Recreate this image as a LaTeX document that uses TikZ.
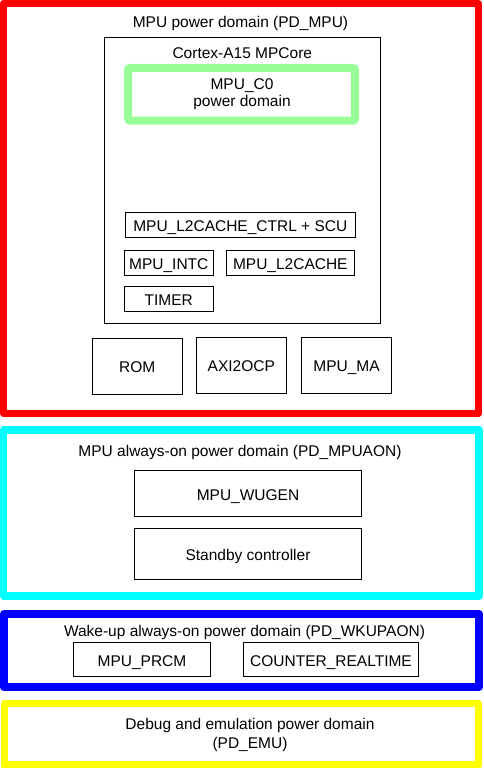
\documentclass[tikz,border=0pt]{standalone}
\usepackage{fontspec}
\setmainfont{Liberation Sans}
\definecolor{pdmpu}{RGB}{255,0,0}
\definecolor{pdcore}{RGB}{152,255,152}
\definecolor{pdaon}{RGB}{0,255,255}
\definecolor{pdwkup}{RGB}{0,0,255}
\definecolor{pdemu}{RGB}{255,255,0}
\begin{document}
\begin{tikzpicture}[x=1pt,y=-1pt,
  every node/.style={font=\fontsize{15.5}{17}\selectfont,inner sep=0pt,align=center},
  pdframe/.style={line width=7.5pt,line join=round},
  blk/.style={draw,line width=1pt,text height=13pt,text depth=0pt},
  smallblk/.style={blk,minimum height=25pt},
  bigblk/.style={blk,minimum width=90pt,minimum height=56pt}]
\useasboundingbox (0,0) rectangle (483,768);
% power domains
\draw[pdframe,pdmpu] (3.5,3.5) rectangle (478.5,413.5);
\draw[pdframe,pdaon] (3.5,430) rectangle (479,596);
\draw[pdframe,pdwkup,line width=8pt] (4,614) rectangle (479,687);
\draw[pdframe,pdemu] (4.5,703.5) rectangle (478.5,765);
% PD_MPU
\node (mputitle) at (240.5,23) {MPU power domain (PD\_MPU)};
\draw[line width=1pt] (104.5,37.5) rectangle (380.3,323.3);
\node (cortex) at (242.3,53.5) {Cortex-A15 MPCore};
\draw[pdcore,line width=8pt,rounded corners=2pt] (128,68) rectangle (355,120.5);
\node (c0) at (242,94.5) {MPU\_C0\\power domain};
\node[smallblk,minimum width=230pt] (l2ctrl) at (240.3,224.8) {MPU\_L2CACHE\_CTRL + SCU};
\node[smallblk,minimum width=89pt] (intc) at (168.8,262.8) {MPU\_INTC};
\node[smallblk,minimum width=128pt] (l2cache) at (290.3,262.8) {MPU\_L2CACHE};
\node[smallblk,minimum width=89pt] (timer) at (168.8,298.8) {TIMER};
\node[bigblk] (rom) at (137.3,366.3) {ROM};
\node[bigblk] (axi) at (241.3,365.3) {AXI2OCP};
\node[bigblk] (mpuma) at (346.5,365.3) {MPU\_MA};
% PD_MPUAON
\node (aontitle) at (240,452) {MPU always-on power domain (PD\_MPUAON)};
\node[blk,minimum width=227.4pt,minimum height=46.4pt] (wugen) at (248,493.5) {MPU\_WUGEN};
\node[blk,minimum width=227.4pt,minimum height=51pt] (standby) at (248,553.8) {Standby controller};
% PD_WKUPAON
\node (wkuptitle) at (244.5,632) {Wake-up always-on power domain (PD\_WKUPAON)};
\node[blk,minimum width=137.4pt,minimum height=34.4pt] (prcm) at (142,659.5) {MPU\_PRCM};
\node[blk,minimum width=175.4pt,minimum height=34.4pt] (counter) at (331,659.5) {COUNTER\_REALTIME};
% PD_EMU
\node (emu) at (250,735) {Debug and emulation power domain\\[2pt](PD\_EMU)};
\end{tikzpicture}
\end{document}
